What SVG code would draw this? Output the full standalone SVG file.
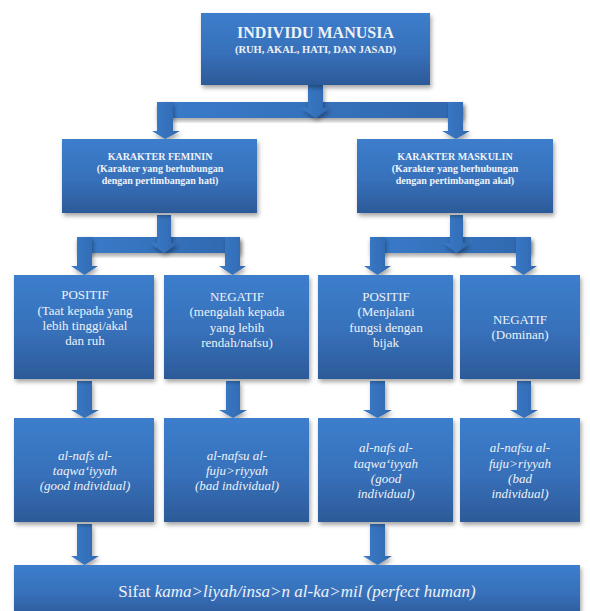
<svg xmlns="http://www.w3.org/2000/svg" width="590" height="611" viewBox="0 0 590 611">
<defs>
<linearGradient id="bg" x1="0" y1="0" x2="0" y2="1">
<stop offset="0" stop-color="#3c7ecc"/>
<stop offset="0.55" stop-color="#3770ba"/>
<stop offset="1" stop-color="#2c5a98"/>
</linearGradient>
<linearGradient id="ag" x1="0" y1="0" x2="1" y2="0">
<stop offset="0" stop-color="#3a7bca"/>
<stop offset="1" stop-color="#3068ae"/>
</linearGradient>
<filter id="sh" x="-20%" y="-20%" width="140%" height="150%">
<feDropShadow dx="1.5" dy="3" stdDeviation="2" flood-color="#000" flood-opacity="0.35"/>
</filter>
</defs>
<style>
.box{fill:url(#bg);filter:url(#sh)}
.arr{fill:url(#ag);filter:url(#sh)}
text{font-family:"Liberation Serif","Times New Roman",Times,Tinos,"Noto Serif","DejaVu Serif",FreeSerif,serif;fill:#eef2f8;text-anchor:middle}
.b{font-weight:bold}
.t1{font-size:16px}
.t2{font-size:10.5px}
.t3{font-size:10px}
.n{font-size:13px}
.i{font-size:13px;font-style:italic}
.f{font-size:17px}
</style>
<g id="connectors">
<rect class="arr" x="157" y="102" width="306" height="16"/>
<polygon class="arr" points="157,102 173,102 173,131 180,131 165,139 152,131 157,131"/>
<polygon class="arr" points="448,102 463,102 463,131 470,131 456,139 442,131 448,131"/>
<polygon class="arr" points="308,85 323,85 323,108 330,108 315.5,118 301,108 308,108"/>
<rect class="arr" x="77" y="237" width="163" height="16"/>
<polygon class="arr" points="77,237 92,237 92,266 98,266 84.5,275 71,266 77,266"/>
<polygon class="arr" points="225,237 240,237 240,266 246,266 232.5,275 219,266 225,266"/>
<polygon class="arr" points="157,215 171,215 171,243 178,243 164,253 150,243 157,243"/>
<rect class="arr" x="370" y="237" width="161" height="16"/>
<polygon class="arr" points="370,237 385,237 385,266 391,266 377.5,275 364,266 370,266"/>
<polygon class="arr" points="516,237 531,237 531,266 537,266 523.5,275 510,266 516,266"/>
<polygon class="arr" points="450,215 463,215 463,243 470,243 456.5,253 443,243 450,243"/>
<polygon class="arr" points="77,381 92,381 92,410 99,410 84.5,418 71,410 77,410"/>
<polygon class="arr" points="226,381 240,381 240,410 247,410 233,418 219,410 226,410"/>
<polygon class="arr" points="370,381 385,381 385,410 392,410 377.5,418 363,410 370,410"/>
<polygon class="arr" points="517,381 531,381 531,410 538,410 524,418 510,410 517,410"/>
<polygon class="arr" points="77,524 92,524 92,556 99,556 84.5,565 71,556 77,556"/>
<polygon class="arr" points="370,524 385,524 385,556 392,556 377.5,565 363,556 370,556"/>
</g>
<g id="individu">
<rect class="box" x="201" y="13" width="229" height="72"/>
<text class="b t1" x="315.5" y="38">INDIVIDU MANUSIA</text>
<text class="b t2" x="315.5" y="53">(RUH, AKAL, HATI, DAN JASAD)</text>
</g>
<g id="feminin">
<rect class="box" x="62" y="139" width="195" height="74"/>
<text class="b t3" x="160" y="160">KARAKTER FEMININ</text>
<text class="b t3" x="160" y="172">(Karakter yang berhubungan</text>
<text class="b t3" x="160" y="184">dengan pertimbangan hati)</text>
</g>
<g id="maskulin">
<rect class="box" x="357" y="139" width="196" height="74"/>
<text class="b t3" x="455" y="160">KARAKTER MASKULIN</text>
<text class="b t3" x="455" y="172">(Karakter yang berhubungan</text>
<text class="b t3" x="455" y="184">dengan pertimbangan akal)</text>
</g>
<g id="fem-positif">
<rect class="box" x="14" y="275" width="140" height="104"/>
<text class="n" x="85" y="299">POSITIF</text>
<text class="n" x="85" y="315">(Taat kepada yang</text>
<text class="n" x="85" y="330">lebih tinggi/akal</text>
<text class="n" x="85" y="345">dan ruh</text>
</g>
<g id="fem-negatif">
<rect class="box" x="164" y="275" width="145" height="104"/>
<text class="n" x="237" y="301">NEGATIF</text>
<text class="n" x="237" y="316">(mengalah kepada</text>
<text class="n" x="237" y="332">yang lebih</text>
<text class="n" x="237" y="347">rendah/nafsu)</text>
</g>
<g id="mas-positif">
<rect class="box" x="318" y="275" width="135" height="104"/>
<text class="n" x="386" y="301">POSITIF</text>
<text class="n" x="386" y="316">(Menjalani</text>
<text class="n" x="386" y="332">fungsi dengan</text>
<text class="n" x="386" y="347">bijak</text>
</g>
<g id="mas-negatif">
<rect class="box" x="460" y="275" width="120" height="104"/>
<text class="n" x="520" y="324">NEGATIF</text>
<text class="n" x="520" y="339">(Dominan)</text>
</g>
<g id="fem-good">
<rect class="box" x="14" y="418" width="140" height="104"/>
<text class="i" x="85" y="460">al-nafs al-</text>
<text class="i" x="85" y="475">taqwa‘iyyah</text>
<text class="i" x="85" y="490">(good individual)</text>
</g>
<g id="fem-bad">
<rect class="box" x="164" y="418" width="145" height="104"/>
<text class="i" x="237" y="460">al-nafsu al-</text>
<text class="i" x="237" y="475">fuju&gt;riyyah</text>
<text class="i" x="237" y="490">(bad individual)</text>
</g>
<g id="mas-good">
<rect class="box" x="318" y="418" width="135" height="104"/>
<text class="i" x="386" y="452">al-nafs al-</text>
<text class="i" x="386" y="468">taqwa‘iyyah</text>
<text class="i" x="386" y="483">(good</text>
<text class="i" x="386" y="498">individual)</text>
</g>
<g id="mas-bad">
<rect class="box" x="460" y="418" width="120" height="104"/>
<text class="i" x="520" y="452">al-nafsu al-</text>
<text class="i" x="520" y="468">fuju&gt;riyyah</text>
<text class="i" x="520" y="483">(bad</text>
<text class="i" x="520" y="498">individual)</text>
</g>
<g id="kamil">
<rect class="box" x="14" y="565" width="566" height="52"/>
<text class="f" x="297" y="597">Sifat <tspan font-style="italic">kama&gt;liyah/insa&gt;n al-ka&gt;mil (perfect human)</tspan></text>
</g>
</svg>
